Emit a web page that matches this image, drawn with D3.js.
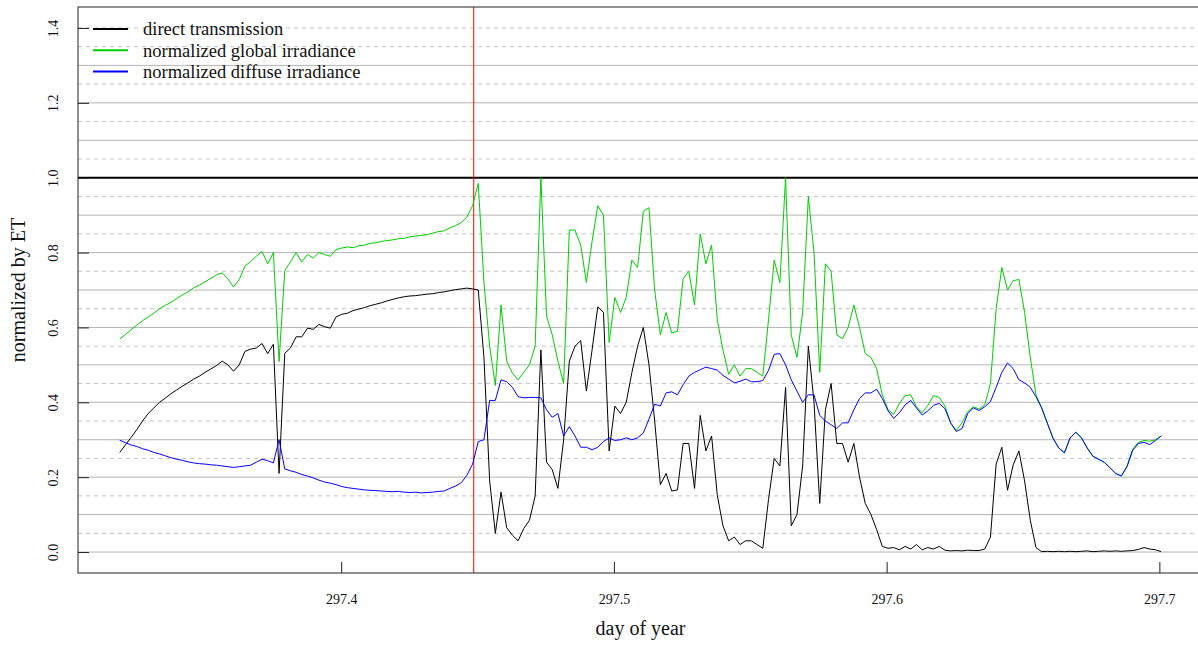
<!DOCTYPE html>
<html>
<head>
<meta charset="utf-8">
<script src="https://d3js.org/d3.v7.min.js"></script>
<style>
  body { margin: 0; background: #fff; }
  svg { display: block; }
</style>
</head>
<body>
<div id="chart"></div>
<script>
// samples roughly every 3 minutes
const sampleStart = 297.3188;
const sampleStep = 0.0020867;

const directTransmission = [
  0.266, 0.286, 0.306, 0.327, 0.350, 0.370, 0.385, 0.400, 0.411, 0.423,
  0.433, 0.443, 0.452, 0.462, 0.470, 0.480, 0.489, 0.498, 0.510, 0.500,
  0.483, 0.500, 0.536, 0.542, 0.545, 0.557, 0.530, 0.555, 0.210, 0.531,
  0.545, 0.575, 0.575, 0.598, 0.595, 0.608, 0.602, 0.598, 0.628, 0.635,
  0.638, 0.645, 0.649, 0.653, 0.658, 0.662, 0.666, 0.671, 0.675, 0.679,
  0.682, 0.684, 0.685, 0.687, 0.689, 0.690, 0.693, 0.695, 0.698, 0.701,
  0.703, 0.705, 0.703, 0.700, 0.520, 0.190, 0.050, 0.160, 0.065, 0.045,
  0.030, 0.063, 0.085, 0.150, 0.540, 0.240, 0.220, 0.170, 0.300, 0.510,
  0.550, 0.565, 0.430, 0.540, 0.655, 0.640, 0.270, 0.390, 0.370, 0.400,
  0.480, 0.550, 0.600, 0.500, 0.350, 0.180, 0.210, 0.163, 0.166, 0.290,
  0.290, 0.170, 0.365, 0.270, 0.310, 0.152, 0.070, 0.030, 0.040, 0.020,
  0.030, 0.030, 0.020, 0.010, 0.140, 0.250, 0.230, 0.440, 0.070, 0.100,
  0.230, 0.550, 0.400, 0.130, 0.380, 0.450, 0.290, 0.290, 0.240, 0.290,
  0.200, 0.130, 0.100, 0.060, 0.015, 0.010, 0.012, 0.006, 0.015, 0.008,
  0.020, 0.006, 0.012, 0.008, 0.015, 0.005, 0.003, 0.004, 0.003, 0.005,
  0.004, 0.004, 0.008, 0.040, 0.235, 0.280, 0.165, 0.233, 0.270, 0.190,
  0.085, 0.012, 0.001, 0.002, 0.001, 0.002, 0.001, 0.002, 0.001, 0.002,
  0.003, 0.001, 0.002, 0.003, 0.002, 0.003, 0.002, 0.003, 0.004, 0.007,
  0.012, 0.008, 0.006, 0.001
];

const globalIrradiance = [
  0.569, 0.581, 0.594, 0.606, 0.618, 0.628, 0.638, 0.650, 0.659, 0.667,
  0.677, 0.687, 0.695, 0.706, 0.713, 0.722, 0.731, 0.740, 0.746, 0.730,
  0.708, 0.728, 0.764, 0.776, 0.790, 0.803, 0.770, 0.800, 0.509, 0.752,
  0.775, 0.800, 0.775, 0.795, 0.785, 0.800, 0.795, 0.790, 0.808, 0.812,
  0.815, 0.813, 0.818, 0.820, 0.825, 0.826, 0.830, 0.832, 0.834, 0.837,
  0.838, 0.842, 0.844, 0.846, 0.848, 0.852, 0.856, 0.858, 0.866, 0.872,
  0.880, 0.895, 0.925, 0.985, 0.720, 0.550, 0.445, 0.660, 0.510, 0.478,
  0.460, 0.480, 0.500, 0.550, 1.000, 0.630, 0.580, 0.510, 0.450, 0.860,
  0.860, 0.820, 0.720, 0.830, 0.925, 0.900, 0.560, 0.680, 0.640, 0.680,
  0.780, 0.760, 0.910, 0.920, 0.700, 0.580, 0.640, 0.585, 0.590, 0.730,
  0.750, 0.660, 0.850, 0.770, 0.820, 0.620, 0.540, 0.475, 0.500, 0.470,
  0.490, 0.490, 0.480, 0.470, 0.620, 0.780, 0.720, 1.000, 0.580, 0.520,
  0.640, 0.950, 0.800, 0.480, 0.770, 0.750, 0.580, 0.570, 0.600, 0.660,
  0.600, 0.530, 0.520, 0.490, 0.420, 0.380, 0.368, 0.397, 0.418, 0.420,
  0.388, 0.372, 0.392, 0.418, 0.413, 0.390, 0.345, 0.325, 0.345, 0.375,
  0.388, 0.382, 0.393, 0.450, 0.650, 0.760, 0.700, 0.725, 0.728, 0.640,
  0.520, 0.420, 0.385, 0.344, 0.304, 0.278, 0.265, 0.305, 0.320, 0.305,
  0.278, 0.256, 0.248, 0.240, 0.225, 0.210, 0.203, 0.230, 0.275, 0.293,
  0.298, 0.296, 0.300, 0.310
];

const diffuseIrradiance = [
  0.299, 0.292, 0.286, 0.282, 0.276, 0.272, 0.266, 0.262, 0.257, 0.252,
  0.248, 0.245, 0.241, 0.238, 0.236, 0.235, 0.233, 0.232, 0.230, 0.228,
  0.226, 0.228, 0.230, 0.232, 0.240, 0.248, 0.244, 0.238, 0.300, 0.222,
  0.217, 0.213, 0.207, 0.203, 0.198, 0.192, 0.187, 0.184, 0.180, 0.175,
  0.172, 0.170, 0.168, 0.166, 0.165, 0.164, 0.163, 0.162, 0.161, 0.162,
  0.160, 0.159, 0.160, 0.158, 0.159, 0.160, 0.162, 0.163, 0.170, 0.176,
  0.185, 0.205, 0.235, 0.295, 0.300, 0.405, 0.405, 0.460, 0.455, 0.440,
  0.415, 0.412, 0.413, 0.413, 0.412, 0.380, 0.360, 0.370, 0.310, 0.335,
  0.310, 0.280, 0.280, 0.273, 0.280, 0.295, 0.305, 0.298, 0.300, 0.305,
  0.300, 0.305, 0.318, 0.355, 0.395, 0.390, 0.425, 0.428, 0.420, 0.447,
  0.470, 0.480, 0.487, 0.494, 0.490, 0.486, 0.472, 0.462, 0.452, 0.456,
  0.462, 0.455, 0.455, 0.458, 0.485, 0.528, 0.530, 0.500, 0.460, 0.430,
  0.400, 0.420, 0.420, 0.365, 0.350, 0.340, 0.330, 0.345, 0.345, 0.380,
  0.410, 0.425, 0.425, 0.435, 0.410, 0.378, 0.357, 0.372, 0.393, 0.405,
  0.385, 0.366, 0.377, 0.392, 0.397, 0.383, 0.345, 0.322, 0.330, 0.370,
  0.385, 0.378, 0.388, 0.402, 0.440, 0.480, 0.505, 0.490, 0.460, 0.452,
  0.440, 0.415, 0.385, 0.344, 0.304, 0.278, 0.265, 0.305, 0.320, 0.305,
  0.278, 0.256, 0.248, 0.240, 0.225, 0.210, 0.203, 0.228, 0.272, 0.290,
  0.293, 0.287, 0.298, 0.310
];

const markerDay = 297.4486;
const xTicks = [297.4, 297.5, 297.6, 297.7];
const yTicks = [0, 0.2, 0.4, 0.6, 0.8, 1.0, 1.2, 1.4];
const gridSolid = [0, 0.1, 0.2, 0.3, 0.4, 0.5, 0.6, 0.7, 0.8, 0.9, 1.1, 1.2, 1.3];
const gridDashed = [0.05, 0.15, 0.25, 0.35, 0.45, 0.55, 0.65, 0.75, 0.85, 0.95, 1.05, 1.15, 1.25, 1.35, 1.4];
const legendLabels = ['direct transmission', 'normalized global irradiance', 'normalized diffuse irradiance'];

const FONT = "'Liberation Serif', 'Times New Roman', serif";
const colors = ['black', '#00cd00', '#0000ff'];

IrradianceChart = function(_parentElement) {
  this.parentElement = _parentElement;

  this.initVis();
};

IrradianceChart.prototype.initVis = function() {
  let vis = this;

  vis.margin = { left: 78, right: -5, top: 7, bottom: 72 };
  vis.width = 1198 - vis.margin.left - vis.margin.right;
  vis.height = 645 - vis.margin.top - vis.margin.bottom;

  vis.svg = d3
    .select(vis.parentElement)
    .append('svg')
    .attr('width', 1198)
    .attr('height', 645)
    .style('font-family', FONT);
  vis.g = vis.svg
    .append('g')
    .attr('transform', 'translate(' + vis.margin.left + ', ' + vis.margin.top + ')');

  // Scales (R style 4% padding around the data)
  vis.x = d3.scaleLinear().domain([297.3035, 297.716]).range([0, vis.width]);
  vis.y = d3.scaleLinear().domain([-0.056, 1.456]).range([vis.height, 0]);

  // Grid
  vis.g
    .selectAll('.grid-solid')
    .data(gridSolid)
    .enter()
    .append('line')
    .attr('class', 'grid-solid')
    .attr('x1', 0)
    .attr('x2', vis.width)
    .attr('y1', d => vis.y(d))
    .attr('y2', d => vis.y(d))
    .attr('stroke', '#b4b4b4')
    .attr('stroke-width', 1);
  vis.g
    .selectAll('.grid-dashed')
    .data(gridDashed)
    .enter()
    .append('line')
    .attr('class', 'grid-dashed')
    .attr('x1', 0)
    .attr('x2', vis.width)
    .attr('y1', d => vis.y(d))
    .attr('y2', d => vis.y(d))
    .attr('stroke', '#c4c4c4')
    .attr('stroke-width', 1)
    .style('stroke-dasharray', '4,4');

  // Reference lines
  vis.g
    .append('line')
    .attr('x1', 0)
    .attr('x2', vis.width)
    .attr('y1', vis.y(1))
    .attr('y2', vis.y(1))
    .attr('stroke', 'black')
    .attr('stroke-width', 2);
  vis.g
    .append('line')
    .attr('x1', vis.x(markerDay))
    .attr('x2', vis.x(markerDay))
    .attr('y1', 0)
    .attr('y2', vis.height)
    .attr('stroke', 'red')
    .attr('stroke-width', 1);

  // X-axis
  vis.xAxisCall = d3
    .axisBottom(vis.x)
    .tickValues(xTicks)
    .tickFormat(d3.format('.1f'))
    .tickSizeInner(-11)
    .tickSizeOuter(0);
  vis.xAxis = vis.g
    .append('g')
    .attr('class', 'x axis')
    .attr('transform', 'translate(0,' + vis.height + ')')
    .call(vis.xAxisCall)
    .attr('font-family', FONT)
    .attr('font-size', 14);
  vis.xAxis.select('.domain').remove();
  vis.xAxis.selectAll('line').attr('stroke', '#222');
  vis.xAxis
    .selectAll('text')
    .attr('y', 31)
    .attr('dy', 0)
    .attr('fill', '#111');

  // Y-axis
  vis.yAxisCall = d3
    .axisLeft(vis.y)
    .tickValues(yTicks)
    .tickFormat(d3.format('.1f'))
    .tickSizeInner(-11)
    .tickSizeOuter(0);
  vis.yAxis = vis.g
    .append('g')
    .attr('class', 'y axis')
    .call(vis.yAxisCall)
    .attr('font-family', FONT)
    .attr('font-size', 14);
  vis.yAxis.select('.domain').remove();
  vis.yAxis.selectAll('line').attr('stroke', '#222');
  vis.yAxis
    .selectAll('text')
    .attr('x', 0)
    .attr('dy', 0)
    .attr('text-anchor', 'middle')
    .attr('transform', 'translate(-20,0) rotate(-90)')
    .attr('fill', '#111');

  // Plot box
  vis.g
    .append('rect')
    .attr('width', vis.width)
    .attr('height', vis.height)
    .attr('fill', 'none')
    .attr('stroke', '#222')
    .attr('stroke-width', 1);

  // Labels
  vis.svg
    .append('text')
    .attr('x', vis.margin.left + vis.width / 2)
    .attr('y', 635)
    .attr('font-size', '20px')
    .attr('text-anchor', 'middle')
    .attr('fill', '#111')
    .text('day of year');
  vis.svg
    .append('text')
    .attr('transform', 'translate(25,' + (vis.margin.top + vis.height / 2) + ') rotate(-90)')
    .attr('font-size', '20px')
    .attr('text-anchor', 'middle')
    .attr('fill', '#111')
    .text('normalized by ET');

  vis.wrangleData();
};

IrradianceChart.prototype.wrangleData = function() {
  let vis = this;

  const toPoints = arr => arr.map((v, i) => ({ day: sampleStart + i * sampleStep, value: v }));
  vis.series = [toPoints(directTransmission), toPoints(globalIrradiance), toPoints(diffuseIrradiance)];

  vis.updateVis();
};

IrradianceChart.prototype.updateVis = function() {
  let vis = this;

  // Path generator
  const line = d3
    .line()
    .x(d => vis.x(d.day))
    .y(d => vis.y(d.value));

  vis.g
    .selectAll('.series')
    .data(vis.series)
    .enter()
    .append('path')
    .attr('class', 'series')
    .attr('fill', 'none')
    .attr('stroke', (d, i) => colors[i])
    .attr('stroke-width', 1)
    .attr('stroke-linejoin', 'round')
    .attr('d', d => line(d));

  // Legend (no box, top left)
  const legend = vis.svg
    .append('g')
    .attr('class', 'legend')
    .attr('transform', 'translate(93,29)');
  const rows = legend
    .selectAll('.row')
    .data(legendLabels)
    .enter()
    .append('g')
    .attr('class', 'row')
    .attr('transform', (d, i) => 'translate(0,' + i * 21.3 + ')');
  rows
    .append('line')
    .attr('x1', 0)
    .attr('x2', 35)
    .attr('stroke', (d, i) => colors[i])
    .attr('stroke-width', 2);
  rows
    .append('text')
    .attr('x', 50)
    .attr('dy', '0.35em')
    .attr('font-size', '18.5px')
    .attr('fill', '#111')
    .text(d => d);
};

new IrradianceChart('#chart');
</script>
</body>
</html>
